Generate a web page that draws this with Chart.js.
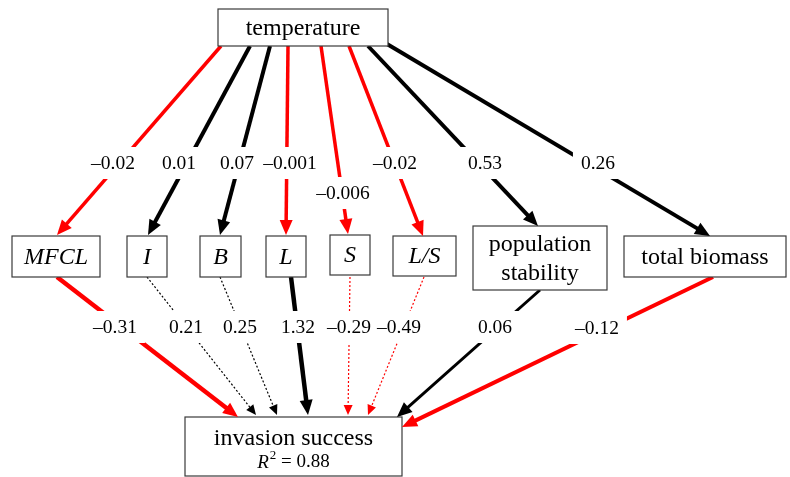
<!DOCTYPE html>
<html>
<head>
<meta charset="utf-8">
<script src="https://cdn.jsdelivr.net/npm/chart.js@4.4.1/dist/chart.umd.min.js"></script>
<style>
  html, body { margin: 0; padding: 0; background: #fff; }
</style>
</head>
<body>
<canvas id="pathChart" width="790" height="477"></canvas>
<script>
// ---- data: path coefficients ----
const nodeNames = ['MFCL', 'I', 'B', 'L', 'S', 'L/S', 'population\nstability', 'total biomass'];
const italicNode = [true, true, true, true, true, true, false, false];
const tempCoef = [-0.02, 0.01, 0.07, -0.001, -0.006, -0.02, 0.53, 0.26];   // temperature -> node
const invCoef = [-0.31, 0.21, 0.25, 1.32, -0.29, -0.49, 0.06, -0.12];      // node -> invasion success
const invSolid = [true, false, false, true, false, false, true, true];      // dotted = non significant
const rSquared = 0.88;

// ---- layout (canvas units, scales run 0..790 / 0..477) ----
const tempBox = [218, 388, 9, 46];
const invBox = [185, 402, 417, 476];
const midBox = [[12, 100, 236, 277], [127, 167, 236, 277], [200, 241, 236, 277], [266, 306, 236, 277],
                [330, 370, 235, 275], [393, 456, 236, 276], [473, 607, 226, 290], [624, 786, 236, 277]];
const upFrom = [[221, 46], [250, 46], [270, 46], [288, 46], [321, 46], [349, 46], [368, 46], [387, 44]];
const upTo = [[57, 235], [148, 235], [220, 235], [286, 235], [348, 234], [423, 236], [538, 226], [710, 236]];
const upLbl = [[113, 163], [179, 163], [237, 163], [290, 163], [343, 193], [395, 163], [485, 163], [598, 163]];
const lowFrom = [[57, 277], [147, 277], [220, 277], [291, 277], [350, 277], [424, 277], [540, 290], [713, 277]];
const lowTo = [[238, 417], [256, 415], [277, 415], [308, 415], [348, 415], [368, 415], [397, 417], [402, 427]];
const lowLbl = [[115, 327], [186, 327], [240, 327], [298, 327], [349, 327], [399, 327], [495, 327], [597, 328]];
const upWidth = [3.5, 4, 4, 3.5, 3.5, 3.5, 4, 4];
const lowWidth = [4.5, 1.2, 1.2, 4.5, 1.2, 1.2, 3, 4];

const RED = '#ff0000';
const SERIF = '"Liberation Serif", "Times New Roman", serif';

function fmt(v) {
  return (v < 0 ? '\u2013' : '') + Math.abs(v);
}

function headSize(w) {
  return w < 2 ? [10, 4.5] : [15, 6.5];
}

// line stops a bit before the arrow tip so the thick stroke does not poke out
function edgeData(from, to, w) {
  const dx = to[0] - from[0], dy = to[1] - from[1];
  const len = Math.hypot(dx, dy);
  const cut = headSize(w)[0] - 2;
  return [{x: from[0], y: from[1]}, {x: to[0] - dx / len * cut, y: to[1] - dy / len * cut}];
}

const datasets = [];
tempCoef.forEach((c, i) => {
  datasets.push({
    data: edgeData(upFrom[i], upTo[i], upWidth[i]),
    borderColor: c < 0 ? RED : '#000',
    borderWidth: upWidth[i]
  });
});
invCoef.forEach((c, i) => {
  datasets.push({
    data: edgeData(lowFrom[i], lowTo[i], lowWidth[i]),
    borderColor: c < 0 ? RED : '#000',
    borderWidth: lowWidth[i],
    borderDash: invSolid[i] ? [] : [2, 2]
  });
});

const diagram = {
  id: 'diagram',
  afterDatasetsDraw(chart) {
    const ctx = chart.ctx;
    const sx = chart.scales.x, sy = chart.scales.y;
    const px = v => sx.getPixelForValue(v);
    const py = v => sy.getPixelForValue(v);

    ctx.save();
    ctx.textAlign = 'center';
    ctx.textBaseline = 'middle';

    // coefficient labels: white patch first, then the text
    const labels = [];
    tempCoef.forEach((c, i) => labels.push([fmt(c), upLbl[i]]));
    invCoef.forEach((c, i) => labels.push([fmt(c), lowLbl[i]]));
    ctx.font = '19.5px ' + SERIF;
    labels.forEach(([t, p]) => {
      const w = ctx.measureText(t).width + 16;
      ctx.fillStyle = '#fff';
      ctx.fillRect(px(p[0]) - w / 2, py(p[1]) - 16, w, 32);
    });
    ctx.fillStyle = '#000';
    labels.forEach(([t, p]) => ctx.fillText(t, px(p[0]), py(p[1]) + 1));

    // boxes
    function box(b) {
      const x0 = px(b[0]), x1 = px(b[1]), y0 = py(b[2]), y1 = py(b[3]);
      ctx.fillStyle = '#fff';
      ctx.fillRect(x0, y0, x1 - x0, y1 - y0);
      ctx.strokeStyle = '#3a3a3a';
      ctx.lineWidth = 1.2;
      ctx.strokeRect(x0, y0, x1 - x0, y1 - y0);
      return [(x0 + x1) / 2, (y0 + y1) / 2];
    }
    let c = box(tempBox);
    ctx.fillStyle = '#000';
    ctx.font = '24px ' + SERIF;
    ctx.fillText('temperature', c[0], c[1] + 1);

    midBox.forEach((b, i) => {
      const m = box(b);
      ctx.fillStyle = '#000';
      ctx.font = (italicNode[i] ? 'italic ' : '') + '24px ' + SERIF;
      const lines = nodeNames[i].split('\n');
      lines.forEach((t, k) => {
        ctx.fillText(t, m[0], m[1] + 1 + (k - (lines.length - 1) / 2) * 29);
      });
    });

    c = box(invBox);
    ctx.fillStyle = '#000';
    ctx.font = '24px ' + SERIF;
    ctx.fillText('invasion success', c[0], c[1] - 8);
    // R^2 line
    ctx.font = 'italic 19px ' + SERIF;
    const rW = ctx.measureText('R').width + 1;
    ctx.font = '13px ' + SERIF;
    const supW = ctx.measureText('2').width;
    ctx.font = '19px ' + SERIF;
    const rest = ' = ' + rSquared;
    const restW = ctx.measureText(rest).width;
    let x = c[0] - (rW + supW + restW) / 2;
    const by = c[1] + 16;
    ctx.textAlign = 'left';
    ctx.font = 'italic 19px ' + SERIF;
    ctx.fillText('R', x, by);
    x += rW;
    ctx.font = '13px ' + SERIF;
    ctx.fillText('2', x, by - 7);
    x += supW;
    ctx.font = '19px ' + SERIF;
    ctx.fillText(rest, x, by);

    // arrow heads
    function head(from, to, w, color) {
      const [hl, hw] = headSize(w);
      const x1 = px(to[0]), y1 = py(to[1]);
      const ang = Math.atan2(y1 - py(from[1]), x1 - px(from[0]));
      ctx.save();
      ctx.translate(x1, y1);
      ctx.rotate(ang);
      ctx.fillStyle = color;
      ctx.beginPath();
      ctx.moveTo(0, 0);
      ctx.lineTo(-hl, -hw);
      ctx.lineTo(-hl, hw);
      ctx.closePath();
      ctx.fill();
      ctx.restore();
    }
    tempCoef.forEach((v, i) => head(upFrom[i], upTo[i], upWidth[i], v < 0 ? RED : '#000'));
    invCoef.forEach((v, i) => head(lowFrom[i], lowTo[i], lowWidth[i], v < 0 ? RED : '#000'));
    ctx.restore();
  }
};

new Chart(document.getElementById('pathChart').getContext('2d'), {
  type: 'scatter',
  data: { datasets: datasets },
  options: {
    responsive: false,
    animation: false,
    showLine: true,
    layout: { padding: 0 },
    elements: {
      point: { radius: 0, hoverRadius: 0 },
      line: { borderCapStyle: 'butt', tension: 0 }
    },
    scales: {
      x: { type: 'linear', min: 0, max: 790, display: false },
      y: { type: 'linear', min: 0, max: 477, reverse: true, display: false }
    },
    plugins: {
      legend: { display: false },
      tooltip: { enabled: false }
    }
  },
  plugins: [diagram]
});
</script>
</body>
</html>
